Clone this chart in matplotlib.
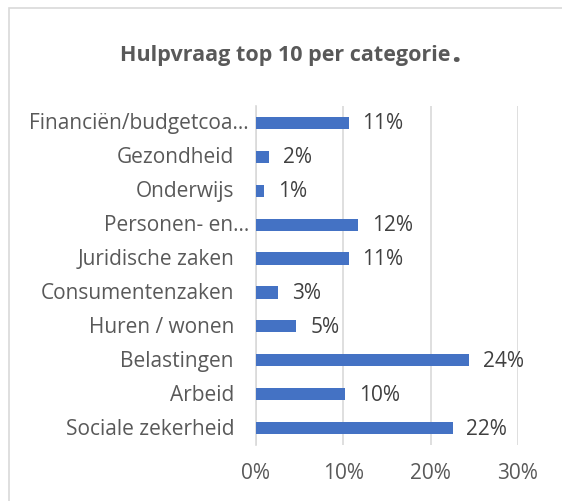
import matplotlib.pyplot as plt
from matplotlib.patches import Rectangle
from matplotlib.transforms import blended_transform_factory, offset_copy

# categorieën (van boven naar beneden)
categorieen = ['Financiën/budgetcoa...', 'Gezondheid', 'Onderwijs', 'Personen- en...',
               'Juridische zaken', 'Consumentenzaken', 'Huren / wonen', 'Belastingen',
               'Arbeid', 'Sociale zekerheid']
percentages = [10.6, 1.5, 0.9, 11.7, 10.6, 2.5, 4.6, 24.4, 10.2, 22.5]
labels = ['11%', '2%', '1%', '12%', '11%', '3%', '5%', '24%', '10%', '22%']
xticks = [0, 10, 20, 30]
xticklabels = ['0%', '10%', '20%', '30%']

plt.rcParams['font.family'] = ['Open Sans', 'DejaVu Sans']

fig = plt.figure(figsize=(5.62, 5.02), dpi=100)
fig.patches.append(Rectangle((9 / 562, -0.1), 1.2, 1 - 9 / 502 + 0.1,
                             transform=fig.transFigure, fill=False,
                             edgecolor='#D9D9D9', linewidth=1.2))

ax = fig.add_axes([256 / 562, 1 - 446 / 502, 262 / 562, 339 / 502])
pos = list(range(len(categorieen)))[::-1]
ax.barh(pos, percentages, height=0.36, color='#4472C4', zorder=3)

for p, v, t in zip(pos, percentages, labels):
    ax.text(v + 1.6, p, t, va='center', ha='left', fontsize=15, color='#404040')

# categorie-labels links van de as (afgekapte labels staan dichter bij de as)
tr = blended_transform_factory(ax.transAxes, ax.transData)
for p, c in zip(pos, categorieen):
    shift = -7 if c.endswith('...') else -22
    ax.text(0, p, c, transform=offset_copy(tr, fig=fig, x=shift, units='dots'),
            ha='right', va='center', fontsize=15, color='#595959')

ax.set_xlim(0, 30)
ax.set_ylim(-0.5, 9.5)
ax.set_yticks([])
ax.set_xticks(xticks)
ax.set_xticklabels(xticklabels, fontsize=15, color='#595959')
ax.tick_params(length=0, axis='x', pad=12)
ax.grid(axis='x', color='#D9D9D9', linewidth=1.2, zorder=0)
for s in ['top', 'right', 'bottom']:
    ax.spines[s].set_visible(False)
ax.spines['left'].set_color('#D9D9D9')
ax.spines['left'].set_linewidth(1.2)

fig.text(450 / 562, 1 - 56 / 502, 'Hulpvraag top 10 per categorie', ha='right', va='center',
         fontsize=15.5, fontweight='bold', color='#595959')
fig.text(451 / 562, 1 - 54 / 502, '.', ha='left', va='center',
         fontsize=24, fontweight='bold', color='#595959')

fig.savefig('out.png', dpi=100)
